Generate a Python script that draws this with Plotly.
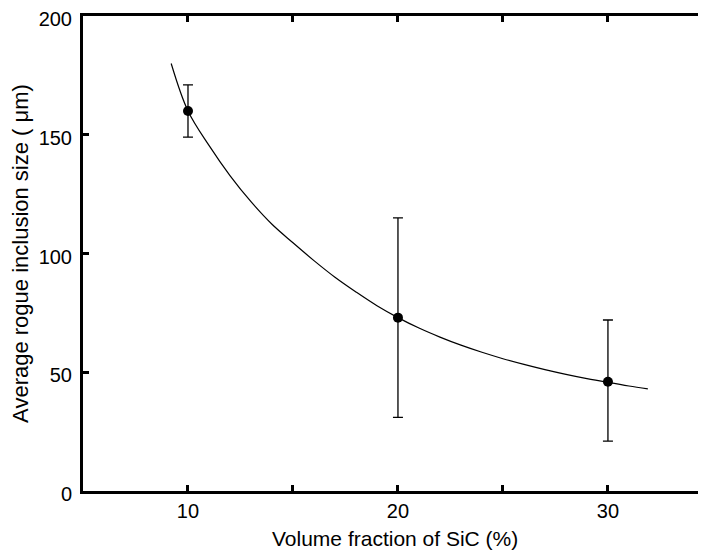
import plotly.graph_objects as go

# Measured points (volume fraction %, average rogue inclusion size um)
vol_frac = [10, 20, 30]
incl_size = [160, 73, 46]
err_plus = [11, 42, 26]
err_minus = [11, 42, 25]

# Fitted curve
curve_x = [9.2, 10, 11, 12, 13, 14, 15, 16, 17, 18, 19, 20, 21, 22, 23, 24,
           25, 26, 27, 28, 29, 30, 31, 31.9]
curve_y = [180, 160, 145.5, 132.8, 121.8, 112.3, 104.5, 97, 90, 83.8, 78, 73,
           68.6, 64.8, 61.4, 58.4, 55.7, 53.3, 51.1, 49.1, 47.3, 45.7, 44.2, 43]

x_tickvals = [10, 15, 20, 25, 30]
x_ticktext = ["10", "", "20", "", "30"]
y_tickvals = [0, 50, 100, 150, 200]

x_title = "Volume fraction of SiC (%)"
y_title = "Average rogue inclusion size ( \u03bcm)"

font_family = "Liberation Sans, Arial, Helvetica, sans-serif"

fig = go.Figure()
fig.add_trace(go.Scatter(
    x=curve_x, y=curve_y, mode="lines",
    line=dict(color="black", width=1.2, shape="spline"),
    showlegend=False, hoverinfo="skip"))
fig.add_trace(go.Scatter(
    x=vol_frac, y=incl_size, mode="markers",
    marker=dict(color="black", size=10),
    error_y=dict(type="data", symmetric=False, array=err_plus,
                 arrayminus=err_minus, color="black", thickness=1.3, width=5),
    showlegend=False))

# the page body adds an 8px margin, so the figure is 8px smaller
fig.update_layout(
    width=698, height=543,
    margin=dict(l=75, r=0, t=8, b=60),
    paper_bgcolor="white", plot_bgcolor="white",
    font=dict(family=font_family, size=20, color="black"),
)
fig.add_annotation(
    text=x_title, xref="paper", yref="paper", x=0.5, y=-0.10,
    xanchor="center", yanchor="middle", showarrow=False,
    font=dict(size=21, color="black"))
fig.update_xaxes(
    range=[5, 34.67], tickvals=x_tickvals, ticktext=x_ticktext,
    ticks="inside", ticklen=6, tickwidth=2.5, tickcolor="black",
    showline=True, linewidth=3, linecolor="black", mirror="ticks",
    showgrid=False, zeroline=False, automargin=False,
    ticklabeloverflow="allow",
    tickfont=dict(size=20))
fig.update_yaxes(
    range=[0, 200], tickvals=y_tickvals,
    ticks="inside", ticklen=6, tickwidth=2.5, tickcolor="black",
    showline=True, linewidth=3, linecolor="black",
    showgrid=False, zeroline=False, automargin=False,
    ticklabelstandoff=4, ticklabelshift=3, ticklabeloverflow="allow",
    title=dict(text=y_title, standoff=8, font=dict(size=22)),
    tickfont=dict(size=20))

fig.write_html("out.html")
